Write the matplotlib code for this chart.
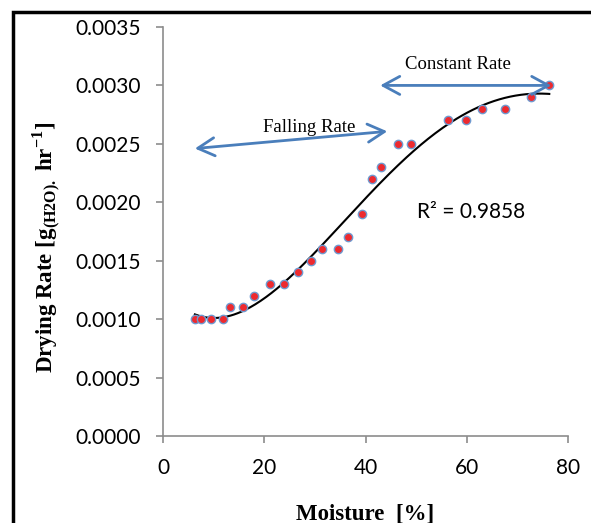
import numpy as np
import matplotlib.pyplot as plt
from matplotlib.patches import Rectangle

# moisture (%) vs drying rate
moisture = [6.3, 7.5, 9.5, 11.9, 13.2, 15.8, 18.0, 21.1, 23.9, 26.7, 29.2, 31.4,
            34.6, 36.6, 39.3, 41.3, 43.1, 46.4, 49.0, 56.3, 59.9, 63.0, 67.6,
            72.7, 76.3]
drying_rate = [0.0010, 0.0010, 0.0010, 0.0010, 0.0011, 0.0011, 0.0012, 0.0013,
               0.0013, 0.0014, 0.0015, 0.0016, 0.0016, 0.0017, 0.0019, 0.0022,
               0.0023, 0.0025, 0.0025, 0.0027, 0.0027, 0.0028, 0.0028, 0.0029,
               0.0030]
r2_label = "R² = 0.9858"

plt.rcParams["mathtext.fontset"] = "custom"
plt.rcParams["mathtext.rm"] = "Liberation Serif"
plt.rcParams["mathtext.bf"] = "Liberation Serif:bold"

x = np.array(moisture)
y = np.array(drying_rate)

fig = plt.figure(figsize=(5.91, 5.23), dpi=100)
ax = fig.add_axes([0.2758, 0.1663, 0.6853, 0.7821])

# polynomial trendline
coef = np.polyfit(x, y, 4)
xs = np.linspace(x.min(), x.max(), 200)
ax.plot(xs, np.polyval(coef, xs), color="black", lw=1.5, zorder=2)

ax.plot(x, y, "o", ms=6, mfc="#ee2a2f", mec="#6f9ad0", mew=1.0, zorder=3)

ax.set_xlim(0, 80)
ax.set_ylim(0, 0.0035)
ax.set_xticks([0, 20, 40, 60, 80])
ax.set_yticks(np.arange(0, 0.00351, 0.0005))
ax.yaxis.set_major_formatter(plt.FormatStrFormatter("%.4f"))

gray = "#8c8c8c"
for s in ["top", "right"]:
    ax.spines[s].set_visible(False)
for s in ["left", "bottom"]:
    ax.spines[s].set_color(gray)
    ax.spines[s].set_linewidth(1.2)
ax.tick_params(direction="out", length=5, width=1.2, color=gray,
               labelsize=15, pad=11)
for lab in ax.get_xticklabels() + ax.get_yticklabels():
    lab.set_family("Lato")

ax.set_xlabel("Moisture  [%]", family="Liberation Serif", weight="bold",
              fontsize=16.5, labelpad=18)
fig.text(0.079, 0.526, r"Drying Rate [g$_{\mathbf{(H2O).}}$ hr$^{\mathbf{-1}}$]",
         rotation=90, family="Liberation Serif", weight="bold", fontsize=16.5,
         ha="center", va="center")

blue = "#4a7ebb"
arrow = dict(arrowstyle="<->,head_length=1.2,head_width=0.65", color=blue,
             lw=2, shrinkA=0, shrinkB=0)
ax.annotate("", xy=(6.3, 0.00246), xytext=(44.3, 0.002607), arrowprops=arrow)
ax.annotate("", xy=(42.9, 0.00300), xytext=(76.7, 0.00300), arrowprops=arrow)
ax.text(28.8, 0.00264, "Falling Rate", family="Liberation Serif", fontsize=13.5,
        ha="center", va="center")
ax.text(58.3, 0.00318, "Constant Rate", family="Liberation Serif", fontsize=13.5,
        ha="center", va="center")
ax.text(60.9, 0.001915, r2_label, family="Lato", fontsize=15, ha="center",
        va="center")

# outer frame of the chart
fig.patches.append(Rectangle((13 / 591, -0.1), 1.2, 1 - 12 / 523 + 0.1,
                             transform=fig.transFigure, fill=False,
                             edgecolor="black", lw=2.5))

fig.savefig("out.png", dpi=100)
